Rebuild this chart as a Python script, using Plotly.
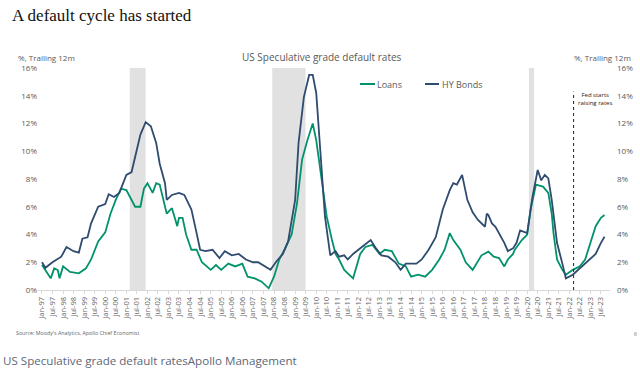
import plotly.graph_objects as go

# ---------------- data ----------------
hy_dates = ["1997-01","1997-03","1997-07","1997-12","1998-03","1998-07","1998-10","1998-12",
            "1999-03","1999-05","1999-09","2000-01","2000-03","2000-06","2000-09","2001-01",
            "2001-04","2001-06","2001-09","2001-12","2002-03","2002-06","2002-08","2002-11",
            "2002-12","2003-03","2003-07","2003-10","2004-02","2004-05","2004-07","2004-10",
            "2005-02","2005-06","2005-09","2006-01","2006-05","2006-09","2007-01","2007-04",
            "2007-08","2007-11","2008-02","2008-06","2008-09","2009-01","2009-03","2009-06",
            "2009-09","2009-11","2010-01","2010-03","2010-06","2010-09","2010-12","2011-02",
            "2011-05","2011-07","2011-10","2012-03","2012-08","2012-11","2013-02","2013-06",
            "2013-10","2014-01","2014-04","2014-10","2015-01","2015-05","2015-09","2016-01",
            "2016-05","2016-07","2016-09","2016-12","2017-03","2017-06","2017-09","2018-01",
            "2018-02","2018-03","2018-05","2018-07","2018-09","2018-12","2019-02","2019-05",
            "2019-07","2019-09","2020-01","2020-02","2020-04","2020-07","2020-09","2020-11",
            "2021-01","2021-03","2021-06","2021-09","2021-11","2022-03","2022-07","2022-10",
            "2023-01","2023-04","2023-07","2023-09"]
hy_values = [2.0,1.6,2.0,2.4,3.1,2.8,2.7,3.7,
             3.8,4.8,6.0,6.2,6.9,6.7,7.0,8.3,
             8.5,9.6,11.2,12.1,11.8,10.6,9.1,7.7,
             6.5,6.85,7.0,6.85,5.8,4.1,2.9,2.8,
             2.9,2.3,2.8,2.5,2.6,2.2,2.0,2.0,
             1.7,1.45,2.0,2.6,3.5,6.5,10.6,13.9,
             15.5,15.5,14.2,10.6,5.3,2.5,2.8,2.4,
             2.5,2.2,2.6,3.1,3.6,3.0,2.5,2.4,
             2.0,1.45,1.9,1.9,2.2,2.9,3.8,5.8,
             7.2,7.7,7.6,8.3,6.5,5.6,5.05,4.56,
             5.5,5.4,4.8,4.56,4.1,3.4,2.8,3.0,
             3.4,4.3,4.1,5.05,6.7,8.65,7.9,8.3,
             8.05,6.5,3.4,1.9,0.84,1.1,1.56,1.9,
             2.2,2.6,3.4,3.84]

loan_dates = ["1997-01","1997-06","1997-08","1997-10","1997-11","1998-01","1998-05","1998-10",
              "1999-02","1999-05","1999-09","2000-01","2000-04","2000-07","2000-10","2001-01",
              "2001-06","2001-09","2001-11","2002-01","2002-04","2002-06","2002-08","2002-12",
              "2003-03","2003-06","2003-07","2003-09","2003-11","2004-02","2004-05","2004-08",
              "2005-01","2005-04","2005-07","2005-11","2006-03","2006-07","2006-10","2007-02",
              "2007-06","2007-10","2008-01","2008-04","2008-07","2008-11","2009-02","2009-05",
              "2009-08","2009-11","2010-01","2010-04","2010-07","2010-10","2010-12","2011-02",
              "2011-05","2011-07","2011-10","2012-02","2012-05","2012-09","2013-01","2013-04",
              "2013-08","2013-12","2014-04","2014-07","2014-11","2015-03","2015-07","2015-11",
              "2016-02","2016-05","2016-07","2016-11","2017-02","2017-06","2017-08","2017-11",
              "2018-03","2018-06","2018-09","2018-12","2019-02","2019-05","2019-06","2019-10",
              "2020-01","2020-03","2020-06","2020-10","2021-01","2021-03","2021-04","2021-06",
              "2021-09","2021-11","2022-03","2022-07","2022-10","2023-01","2023-04","2023-07",
              "2023-09"]
loan_values = [1.8,0.84,1.56,1.44,0.84,1.7,1.3,1.2,
               1.56,2.2,3.5,4.15,5.5,6.5,7.3,7.2,
               6.0,6.0,7.3,7.7,7.0,7.7,7.6,5.5,
               5.9,4.6,5.2,5.2,4.0,2.9,2.9,2.0,
               1.45,1.8,1.45,1.9,1.7,1.9,0.96,0.84,
               0.6,0.12,0.96,2.2,2.9,4.0,6.2,9.4,
               10.8,12.0,10.8,8.2,5.3,3.6,2.6,2.2,
               1.45,1.2,0.84,2.6,3.1,3.25,2.6,2.9,
               2.8,1.9,1.7,0.96,1.1,0.96,1.45,2.2,
               2.9,4.1,3.6,2.9,2.0,1.45,1.9,2.5,
               2.76,2.4,2.3,1.7,2.2,2.6,2.9,3.6,
               4.0,5.8,7.6,7.45,7.0,5.5,4.1,2.2,
               1.45,1.1,1.45,1.7,2.2,3.4,4.6,5.2,
               5.4]

recessions = [("2001-03-01", "2001-11-30"), ("2007-12-01", "2009-06-30"), ("2020-02-01", "2020-04-30")]
fed_hike_date = "2022-03-15"
y_ticks = [0, 2, 4, 6, 8, 10, 12, 14, 16]
y_tick_labels = [f"{v}%" for v in y_ticks]
series_names = ["Loans", "HY Bonds"]

GREEN = "#00936b"
NAVY = "#2f4b70"
GREY_TXT = "#595959"

W, H = 640, 373
L, R, T, B = 38, 30, 68, 83
pw, ph = W - L - R, H - T - B


def px_x(v):
    return (v - L) / pw


def px_y(v):
    return (H - B - v) / ph


fig = go.Figure()
fig.add_trace(go.Scatter(x=loan_dates, y=loan_values, name=series_names[0], mode="lines",
                         line=dict(color=GREEN, width=1.8), yaxis="y", showlegend=False))
fig.add_trace(go.Scatter(x=hy_dates, y=hy_values, name=series_names[1], mode="lines",
                         line=dict(color=NAVY, width=1.8), yaxis="y2", showlegend=False))

shapes = []
for s, e in recessions:
    shapes.append(dict(type="rect", xref="x", yref="y", x0=s, x1=e, y0=0, y1=16,
                       fillcolor="#e1e1e1", line=dict(width=0), layer="below"))
shapes.append(dict(type="line", xref="x", yref="y", x0=fed_hike_date, x1=fed_hike_date,
                   y0=0, y1=14.3, line=dict(color="#222222", width=1, dash="dot")))

# legend swatches (key)
legend_items = [(series_names[0], GREEN, 360, 375), (series_names[1], NAVY, 425, 439)]
for name, col, xa, xb in legend_items:
    shapes.append(dict(type="line", xref="paper", yref="paper", x0=px_x(xa), x1=px_x(xb),
                       y0=px_y(84), y1=px_y(84), line=dict(color=col, width=2)))

axis_font = dict(family="Open Sans", size=8, color=GREY_TXT)

fig.update_layout(
    width=W, height=H,
    margin=dict(l=L, r=R, t=T, b=B, autoexpand=False),
    paper_bgcolor="white", plot_bgcolor="white",
    showlegend=False,
    xaxis=dict(type="date", range=["1996-10-24", "2023-12-05"], automargin=False,
               tickformat="%b-%y", dtick="M6", tick0="1997-01-01", tickangle=-90,
               tickfont=dict(family="Open Sans", size=7.5, color="#666666"),
               showgrid=False, showline=True, linecolor="#d9d9d9", linewidth=1,
               ticks="outside", ticklen=3, tickcolor="#d9d9d9", zeroline=False),
    yaxis=dict(range=[0, 16], tickvals=y_ticks, ticktext=y_tick_labels, showgrid=False,
               zeroline=False, tickfont=axis_font, ticks="", showline=False, automargin=False),
    yaxis2=dict(range=[0, 16], tickvals=y_ticks, ticktext=y_tick_labels, overlaying="y",
                side="right", showgrid=False, zeroline=False, tickfont=axis_font,
                ticks="", showline=False, ticklabelstandoff=6, automargin=False),
    shapes=shapes,
)

ann = [
    dict(text="A default cycle has started", x=10, y=16,
         font=dict(family="Liberation Serif", size=17, color="#111111")),
    dict(text="%, Trailing 12m", x=16, y=57, font=dict(family="Open Sans", size=8, color=GREY_TXT)),
    dict(text="%, Trailing 12m", x=572, y=57, font=dict(family="Open Sans", size=8, color=GREY_TXT)),
    dict(text="US Speculative grade default rates", x=240, y=57,
         font=dict(family="Open Sans", size=10, color=GREY_TXT)),
    dict(text=series_names[0], x=375, y=84, font=dict(family="Open Sans", size=9, color=GREY_TXT)),
    dict(text=series_names[1], x=440, y=84, font=dict(family="Open Sans", size=9, color=GREY_TXT)),
    dict(text="Fed starts<br>raising rates", x=576, y=99, align="center",
         font=dict(family="Open Sans", size=6, color="#222222")),
    dict(text="Source: Moody's Analytics, Apollo Chief Economist", x=14, y=333,
         font=dict(family="Open Sans", size=5.3, color="#666666")),
    dict(text="6", x=632, y=334, font=dict(family="Open Sans", size=5, color="#666666")),
    dict(text="US Speculative grade default ratesApollo Management", x=1, y=360,
         font=dict(family="Open Sans", size=11.6, color="#5c6878")),
]
annotations = []
for a in ann:
    annotations.append(dict(text=a["text"], x=px_x(a["x"]), y=px_y(a["y"]),
                            xref="paper", yref="paper", xanchor="left", yanchor="middle",
                            showarrow=False, font=a["font"], align=a.get("align", "left")))
fig.update_layout(annotations=annotations)

fig.write_html("out.html", config={"displayModeBar": False},
               post_script="document.body.style.margin='0';")
